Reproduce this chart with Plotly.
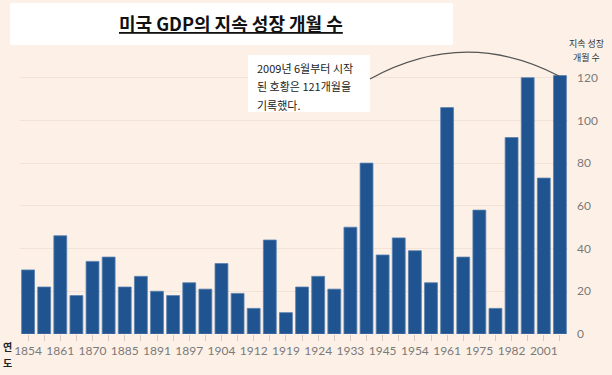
import plotly.graph_objects as go

# Data: start year of each US expansion, length in months
years = ["1854", "1858", "1861", "1867", "1870", "1879", "1885", "1888", "1891", "1894",
         "1897", "1900", "1904", "1908", "1912", "1914", "1919", "1921", "1924", "1927",
         "1933", "1938", "1945", "1949", "1954", "1958", "1961", "1970", "1975", "1980",
         "1982", "1991", "2001", "2009"]
months = [30, 22, 46, 18, 34, 36, 22, 27, 20, 18,
          24, 21, 33, 19, 12, 44, 10, 22, 27, 21,
          50, 80, 37, 45, 39, 24, 106, 36, 58, 12,
          92, 120, 73, 121]
tick_labels = [y if i % 2 == 0 else "" for i, y in enumerate(years)]
y_ticks = [0, 20, 40, 60, 80, 100, 120]

title_text = "미국 GDP의 지속 성장 개월 수"
note_lines = ["2009년 6월부터 시작", "된 호황은 121개월을", "기록했다."]
y_title_lines = ["지속 성장", "개월 수"]
x_title_lines = ["연", "도"]

W, H = 612, 375
L, R, T, B = 20, 44, 67, 41
PW, PH = W - L - R, H - T - B

def px(x):
    return (x - L) / PW

def py(y):
    return (H - B - y) / PH

BG = "#FDF1E7"
FONT = "Noto Sans CJK KR"

fig = go.Figure()
fig.add_trace(go.Bar(
    x=years, y=months,
    marker=dict(color="#1F5490", line=dict(color="#5a82b0", width=0.8)),
    width=0.8,
))

shapes = [
    dict(type="rect", xref="paper", yref="paper",
         x0=px(10), x1=px(453), y0=py(45), y1=py(3),
         fillcolor="white", line=dict(width=0), layer="above"),
    dict(type="rect", xref="paper", yref="paper",
         x0=px(248), x1=px(370), y0=py(112), y1=py(55),
         fillcolor="white", line=dict(width=0), layer="above"),
    dict(type="path", xref="paper", yref="paper",
         path=f"M {px(370)},{py(79)} Q {px(465)},{py(27)} {px(559)},{py(76)}",
         line=dict(color="#555555", width=1.2), layer="above"),
]

annotations = [
    dict(text=f"<b><u>{title_text}</u></b>", xref="paper", yref="paper",
         x=px(231), y=py(23), xanchor="center", yanchor="middle", showarrow=False,
         font=dict(family=FONT, size=18, color="#111111")),
]
for i, line in enumerate(note_lines):
    annotations.append(dict(text=line, xref="paper", yref="paper",
                            x=px(255), y=py(68 + i * 18.5), xanchor="left", yanchor="middle",
                            showarrow=False, font=dict(family=FONT, size=11, color="#222222")))
for i, line in enumerate(y_title_lines):
    annotations.append(dict(text=line, xref="paper", yref="paper",
                            x=px(586), y=py(43 + i * 15), xanchor="center", yanchor="middle",
                            showarrow=False, font=dict(family=FONT, size=9, color="#333333")))
for i, line in enumerate(x_title_lines):
    annotations.append(dict(text=f"<b>{line}</b>", xref="paper", yref="paper",
                            x=px(7), y=py(346 + i * 16), xanchor="center", yanchor="middle",
                            showarrow=False, font=dict(family=FONT, size=10, color="#222222")))

fig.update_layout(
    width=W, height=H,
    margin=dict(l=L, r=R, t=T, b=B),
    paper_bgcolor=BG, plot_bgcolor=BG,
    showlegend=False,
    bargap=0.2,
    shapes=shapes,
    annotations=annotations,
    xaxis=dict(
        type="category",
        tickmode="array", tickvals=years, ticktext=tick_labels,
        ticks="outside", ticklen=6, tickcolor="#d8cbc0", tickwidth=1,
        tickfont=dict(family="Lato", size=12, color="#7a7a7a"),
        showgrid=False, showline=False, zeroline=False,
        tickangle=0,
    ),
    yaxis=dict(
        side="right", range=[0, 125],
        tickmode="array", tickvals=y_ticks,
        tickfont=dict(family="Lato", size=12, color="#7a7a7a"),
        showgrid=True, gridcolor="#f3e2d6", gridwidth=1,
        zeroline=False, showline=False, ticks="",
        ticklabelstandoff=8,
    ),
)

fig.write_html("out.html", config={"displayModeBar": False},
               post_script="document.body.style.margin='0';document.body.style.overflow='hidden';")
